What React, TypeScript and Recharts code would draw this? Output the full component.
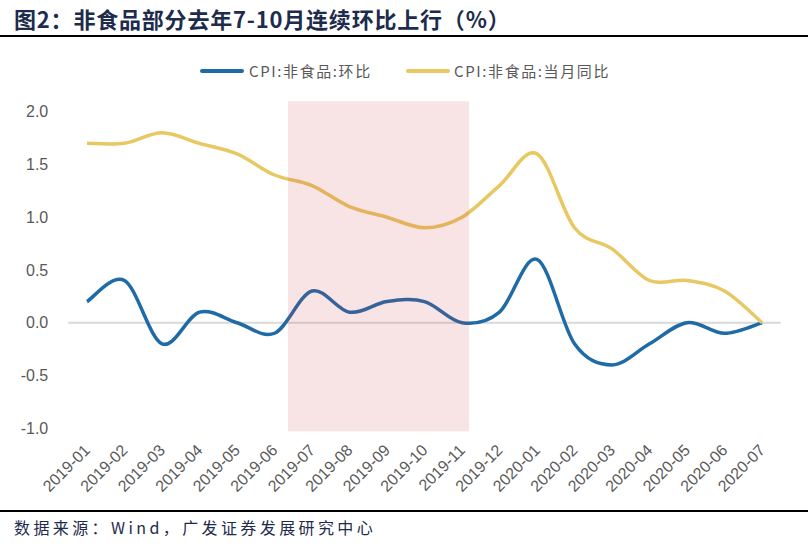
import React from 'react'
import { LineChart, Line, XAxis, YAxis, ReferenceArea, ReferenceLine } from 'recharts'

const months = [
  '2019-01', '2019-02', '2019-03', '2019-04', '2019-05', '2019-06', '2019-07',
  '2019-08', '2019-09', '2019-10', '2019-11', '2019-12', '2020-01', '2020-02',
  '2020-03', '2020-04', '2020-05', '2020-06', '2020-07',
]
// CPI:非食品:环比
const mom = [0.2, 0.4, -0.2, 0.1, 0.0, -0.1, 0.3, 0.1, 0.2, 0.2, 0.0, 0.1, 0.6, -0.2, -0.4, -0.2, 0.0, -0.1, 0.0]
// CPI:非食品:当月同比
const yoy = [1.7, 1.7, 1.8, 1.7, 1.6, 1.4, 1.3, 1.1, 1.0, 0.9, 1.0, 1.3, 1.6, 0.9, 0.7, 0.4, 0.4, 0.3, 0.0]
const yTicks = [-1, -0.5, 0, 0.5, 1, 1.5, 2]
// shaded band, 2019-07 .. 2019-11 (in month index units)
const shadeFrom = 5.36
const shadeTo = 10.19

const BLUE = '#1f6ba6'
const GOLD = '#e7c862'
const GREY = '#595959'
const NAVY = '#1d2b4c'
const CJK = '"Noto Sans CJK SC", "Liberation Sans", sans-serif'
const LATIN = '"Liberation Sans", Arial, sans-serif'

const data = months.map((m, i) => ({ idx: i, month: m, mom: mom[i], yoy: yoy[i] }))

// Excel-style smoothed line (Catmull-Rom through the points)
function excelSmooth(context: any) {
  let pts: number[][] = []
  return {
    areaStart() {},
    areaEnd() {},
    lineStart() { pts = [] },
    point(x: number, y: number) { pts.push([+x, +y]) },
    lineEnd() {
      const n = pts.length
      if (!n) return
      context.moveTo(pts[0][0], pts[0][1])
      for (let i = 0; i < n - 1; i++) {
        const p0 = pts[i - 1] || pts[i]
        const p1 = pts[i]
        const p2 = pts[i + 1]
        const p3 = pts[i + 2] || p2
        context.bezierCurveTo(
          p1[0] + (p2[0] - p0[0]) / 6, p1[1] + (p2[1] - p0[1]) / 6,
          p2[0] - (p3[0] - p1[0]) / 6, p2[1] - (p3[1] - p1[1]) / 6,
          p2[0], p2[1],
        )
      }
    },
  }
}

function MonthTick({ x, y, payload }: any) {
  const tx = x + 4
  const ty = y + 15
  return (
    <text
      x={tx}
      y={ty}
      transform={`rotate(-45, ${tx}, ${ty})`}
      textAnchor="end"
      fill={GREY}
      fontSize={16}
      fontFamily={LATIN}
    >
      {months[payload.value]}
    </text>
  )
}

function LegendItem({ color, label, left, textLeft }: { color: string; label: string; left: number; textLeft: number }) {
  return (
    <>
      <div style={{ position: 'absolute', left, top: 69, width: 44, height: 4, borderRadius: 2, background: color }} />
      <div style={{ position: 'absolute', left: textLeft, top: 60, fontSize: 15, lineHeight: '22px', color: GREY, fontFamily: CJK, letterSpacing: 1.6, whiteSpace: 'nowrap' }}>
        {label}
      </div>
    </>
  )
}

export default function App() {
  return (
    <div style={{ position: 'absolute', left: 0, top: 0, width: 808, height: 546, background: '#fff', overflow: 'hidden' }}>
      <div style={{ position: 'absolute', left: 14, top: 2, fontSize: 22, lineHeight: '32px', fontWeight: 700, color: NAVY, fontFamily: CJK, whiteSpace: 'nowrap', letterSpacing: 0.8 }}>
        图2：非食品部分去年7-10月连续环比上行（%）
      </div>
      <div style={{ position: 'absolute', left: 0, top: 35, width: 808, height: 2, background: '#000' }} />

      <LegendItem color={BLUE} label="CPI:非食品:环比" left={200} textLeft={249} />
      <LegendItem color={GOLD} label="CPI:非食品:当月同比" left={406} textLeft={454} />

      <div style={{ position: 'absolute', left: 0, top: 0 }}>
        <LineChart width={808} height={546} data={data} margin={{ top: 111.7, right: 27.25, bottom: 0, left: 0 }}>
          <XAxis
            dataKey="idx"
            type="number"
            domain={[-0.5, 18.5]}
            ticks={data.map(d => d.idx)}
            interval={0}
            axisLine={false}
            tickLine={false}
            height={117.8}
            tick={<MonthTick />}
          />
          <YAxis
            domain={[-1, 2]}
            ticks={yTicks}
            tickFormatter={(v: number) => v.toFixed(1)}
            axisLine={false}
            tickLine={false}
            tickSize={6}
            tickMargin={14}
            width={68.25}
            tick={{ fill: GREY, fontSize: 16, fontFamily: LATIN }}
          />
          <ReferenceLine y={0} stroke="#d9d9d9" strokeWidth={2} />
          <Line dataKey="mom" type={excelSmooth as any} stroke={BLUE} strokeWidth={3.5} dot={false} isAnimationActive={false} />
          <Line dataKey="yoy" type={excelSmooth as any} stroke={GOLD} strokeWidth={3.5} dot={false} isAnimationActive={false} />
          <ReferenceArea
            x1={shadeFrom}
            x2={shadeTo}
            y1={-1.03}
            y2={2.1}
            ifOverflow="visible"
            fill="#d03c46"
            fillOpacity={0.14}
            stroke="none"
            zIndex={600}
          />
        </LineChart>
      </div>

      <div style={{ position: 'absolute', left: 0, top: 510, width: 808, height: 2, background: '#000' }} />
      <div style={{ position: 'absolute', left: 14, top: 514, fontSize: 16, lineHeight: '26px', color: NAVY, fontFamily: CJK, whiteSpace: 'nowrap', letterSpacing: 3.4 }}>
        数据来源：Wind，广发证券发展研究中心
      </div>
    </div>
  )
}
